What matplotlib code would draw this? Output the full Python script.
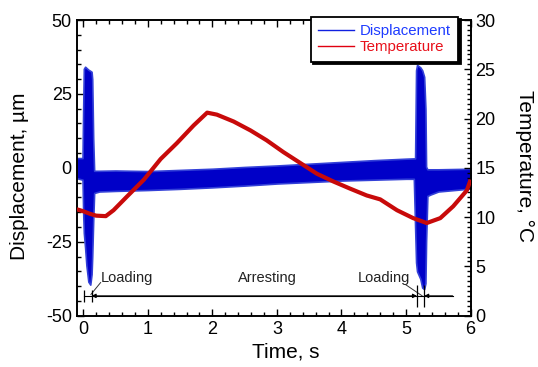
import matplotlib
matplotlib.use("Agg")
import matplotlib.pyplot as plt
from matplotlib.lines import Line2D
from matplotlib.ticker import MultipleLocator

plt.rcParams['font.family'] = ['Liberation Sans', 'DejaVu Sans']
plt.rcParams['axes.unicode_minus'] = False

# displacement signal envelope (upper / lower), um
disp_t = [-0.10, -0.01, 0.0, 0.01, 0.03, 0.05, 0.08, 0.11, 0.13, 0.14, 0.155, 0.17,
          0.25, 0.5, 1.0, 1.5, 2.0, 2.5, 3.0, 3.5, 4.0, 4.5, 5.0, 5.12, 5.14, 5.155,
          5.17, 5.22, 5.25, 5.28, 5.30, 5.31, 5.33, 5.38, 5.5, 5.75, 6.0]
disp_hi = [3.3, 3.3, 20, 33.5, 34.2, 33.8, 33.2, 32.8, 32.5, 30, 10, -1.0,
           -1.0, -0.9, -1.1, -0.7, -0.3, 0.3, 0.8, 1.4, 2.0, 2.6, 3.1, 3.2, 3.2, 33,
           34.8, 34.0, 33.0, 30.8, 20, 0.4, -0.5, -0.5, -0.5, -0.4, -0.3]
disp_lo = [-3.5, -4.0, -15, -22, -27, -33, -38.5, -39.5, -36, -30, -18, -8.5,
           -8.0, -7.8, -7.5, -7.1, -6.6, -6.0, -5.3, -4.8, -4.3, -4.0, -3.7, -3.7, -20, -32,
           -35, -37.5, -40.5, -41, -39, -25, -9.5, -9.0, -8.0, -7.5, -7.0]

# temperature trace, deg C
temp_t = [-0.1, 0.0, 0.1, 0.2, 0.35, 0.47, 0.68, 0.94, 1.2, 1.45, 1.71, 1.92, 2.07,
          2.33, 2.59, 2.84, 3.1, 3.36, 3.62, 3.88, 4.13, 4.39, 4.6, 4.86, 5.11, 5.32,
          5.53, 5.73, 5.94, 6.0]
temp_c = [10.8, 10.6, 10.35, 10.15, 10.1, 10.7, 12.1, 13.8, 15.9, 17.5, 19.3, 20.6, 20.4,
          19.7, 18.8, 17.8, 16.6, 15.5, 14.4, 13.6, 12.9, 12.2, 11.8, 10.7, 9.9, 9.4,
          9.9, 11.1, 12.7, 13.8]

# loading / arresting phase boundaries, s
phase_marks = [0.01, 0.13, 5.17, 5.28]
phase_labels = ['Loading', 'Arresting', 'Loading']
phase_label_t = [0.67, 2.86, 4.66]

blue = '#0000c8'
red = '#c80a0a'

fig = plt.figure(figsize=(5.38, 3.67), dpi=100)
ax = fig.add_axes([0.1426, 0.1398, 0.7322, 0.8057])
ax2 = ax.twinx()

ax.fill_between(disp_t, disp_lo, disp_hi, facecolor=blue, edgecolor='#3340d8',
                lw=1.2, zorder=2)
ax2.plot(temp_t, temp_c, color=red, lw=3.0, solid_capstyle='butt', zorder=3)

ax.set_xlim(-0.1, 6)
ax.set_ylim(-50, 50)
ax2.set_ylim(0, 30)

ax.xaxis.set_major_locator(MultipleLocator(1))
ax.xaxis.set_minor_locator(MultipleLocator(0.2))
ax.yaxis.set_major_locator(MultipleLocator(25))
ax.yaxis.set_minor_locator(MultipleLocator(5))
ax2.yaxis.set_major_locator(MultipleLocator(5))
ax2.yaxis.set_minor_locator(MultipleLocator(0.5))

ax.tick_params(which='both', direction='in', top=True, labelsize=13, width=1.0)
ax.tick_params(which='major', length=5)
ax.tick_params(which='minor', length=3)
ax2.tick_params(which='both', direction='in', labelsize=13, width=1.0)
ax2.tick_params(which='major', length=5)
ax2.tick_params(which='minor', length=3)
for a in (ax, ax2):
    for s in a.spines.values():
        s.set_linewidth(1.2)

ax.set_xlabel('Time, s', fontsize=15)
ax.set_ylabel('Displacement, µm', fontsize=15)
ax2.set_ylabel('Temperature, °C', fontsize=15, rotation=270)
ax.xaxis.set_label_coords(0.531, -0.09)
ax.yaxis.set_label_coords(-0.12, 0.472)
ax2.yaxis.set_label_coords(1.16, 0.506)

# phase markers and arrows along the bottom
y_arr = -43.3
ax.plot([phase_marks[0], 5.72], [y_arr, y_arr], color='black', lw=0.8, zorder=4)
ax.vlines(phase_marks[:2], -45.5, -41.3, color='black', lw=0.9, zorder=4)
ax.vlines(phase_marks[2:], -47.0, -39.6, color='black', lw=0.9, zorder=4)
arrow = dict(arrowstyle='<|-|>', color='black', lw=0.8, mutation_scale=6,
             shrinkA=0, shrinkB=0)
ax.annotate('', xy=(phase_marks[1], y_arr), xytext=(phase_marks[2], y_arr),
            arrowprops=arrow, zorder=4)
ax.annotate('', xy=(phase_marks[3], y_arr), xytext=(5.72, y_arr),
            arrowprops=dict(arrow, arrowstyle='-|>'), zorder=4)
for lbl, tx in zip(phase_labels, phase_label_t):
    ax.text(tx, -38.6, lbl, fontsize=10.5, ha='center', va='baseline', color='#222222')
ax.plot([0.27, 0.12], [-38.8, -42.8], color='#333333', lw=0.7)
ax.plot([5.0, 5.25], [-39.6, -43.3], color='#333333', lw=0.7)

handles = [Line2D([], [], color='#1020e0', lw=1.0),
           Line2D([], [], color='#e00010', lw=1.0)]
leg = ax2.legend(handles, ['Displacement', 'Temperature'], loc='upper right',
                 bbox_to_anchor=(458 / 538, 1 - 16.7 / 367),
                 bbox_transform=fig.transFigure, borderaxespad=0,
                 fontsize=10.8, labelcolor=['#1e3cff', '#e8101a'],
                 fancybox=False, framealpha=1, edgecolor='black',
                 handlelength=2.4, handletextpad=0.35, labelspacing=0.12,
                 borderpad=0.5, shadow={'color': 'black', 'alpha': 1})
leg.get_frame().set_linewidth(1.3)

fig.savefig('out.png', dpi=100)
